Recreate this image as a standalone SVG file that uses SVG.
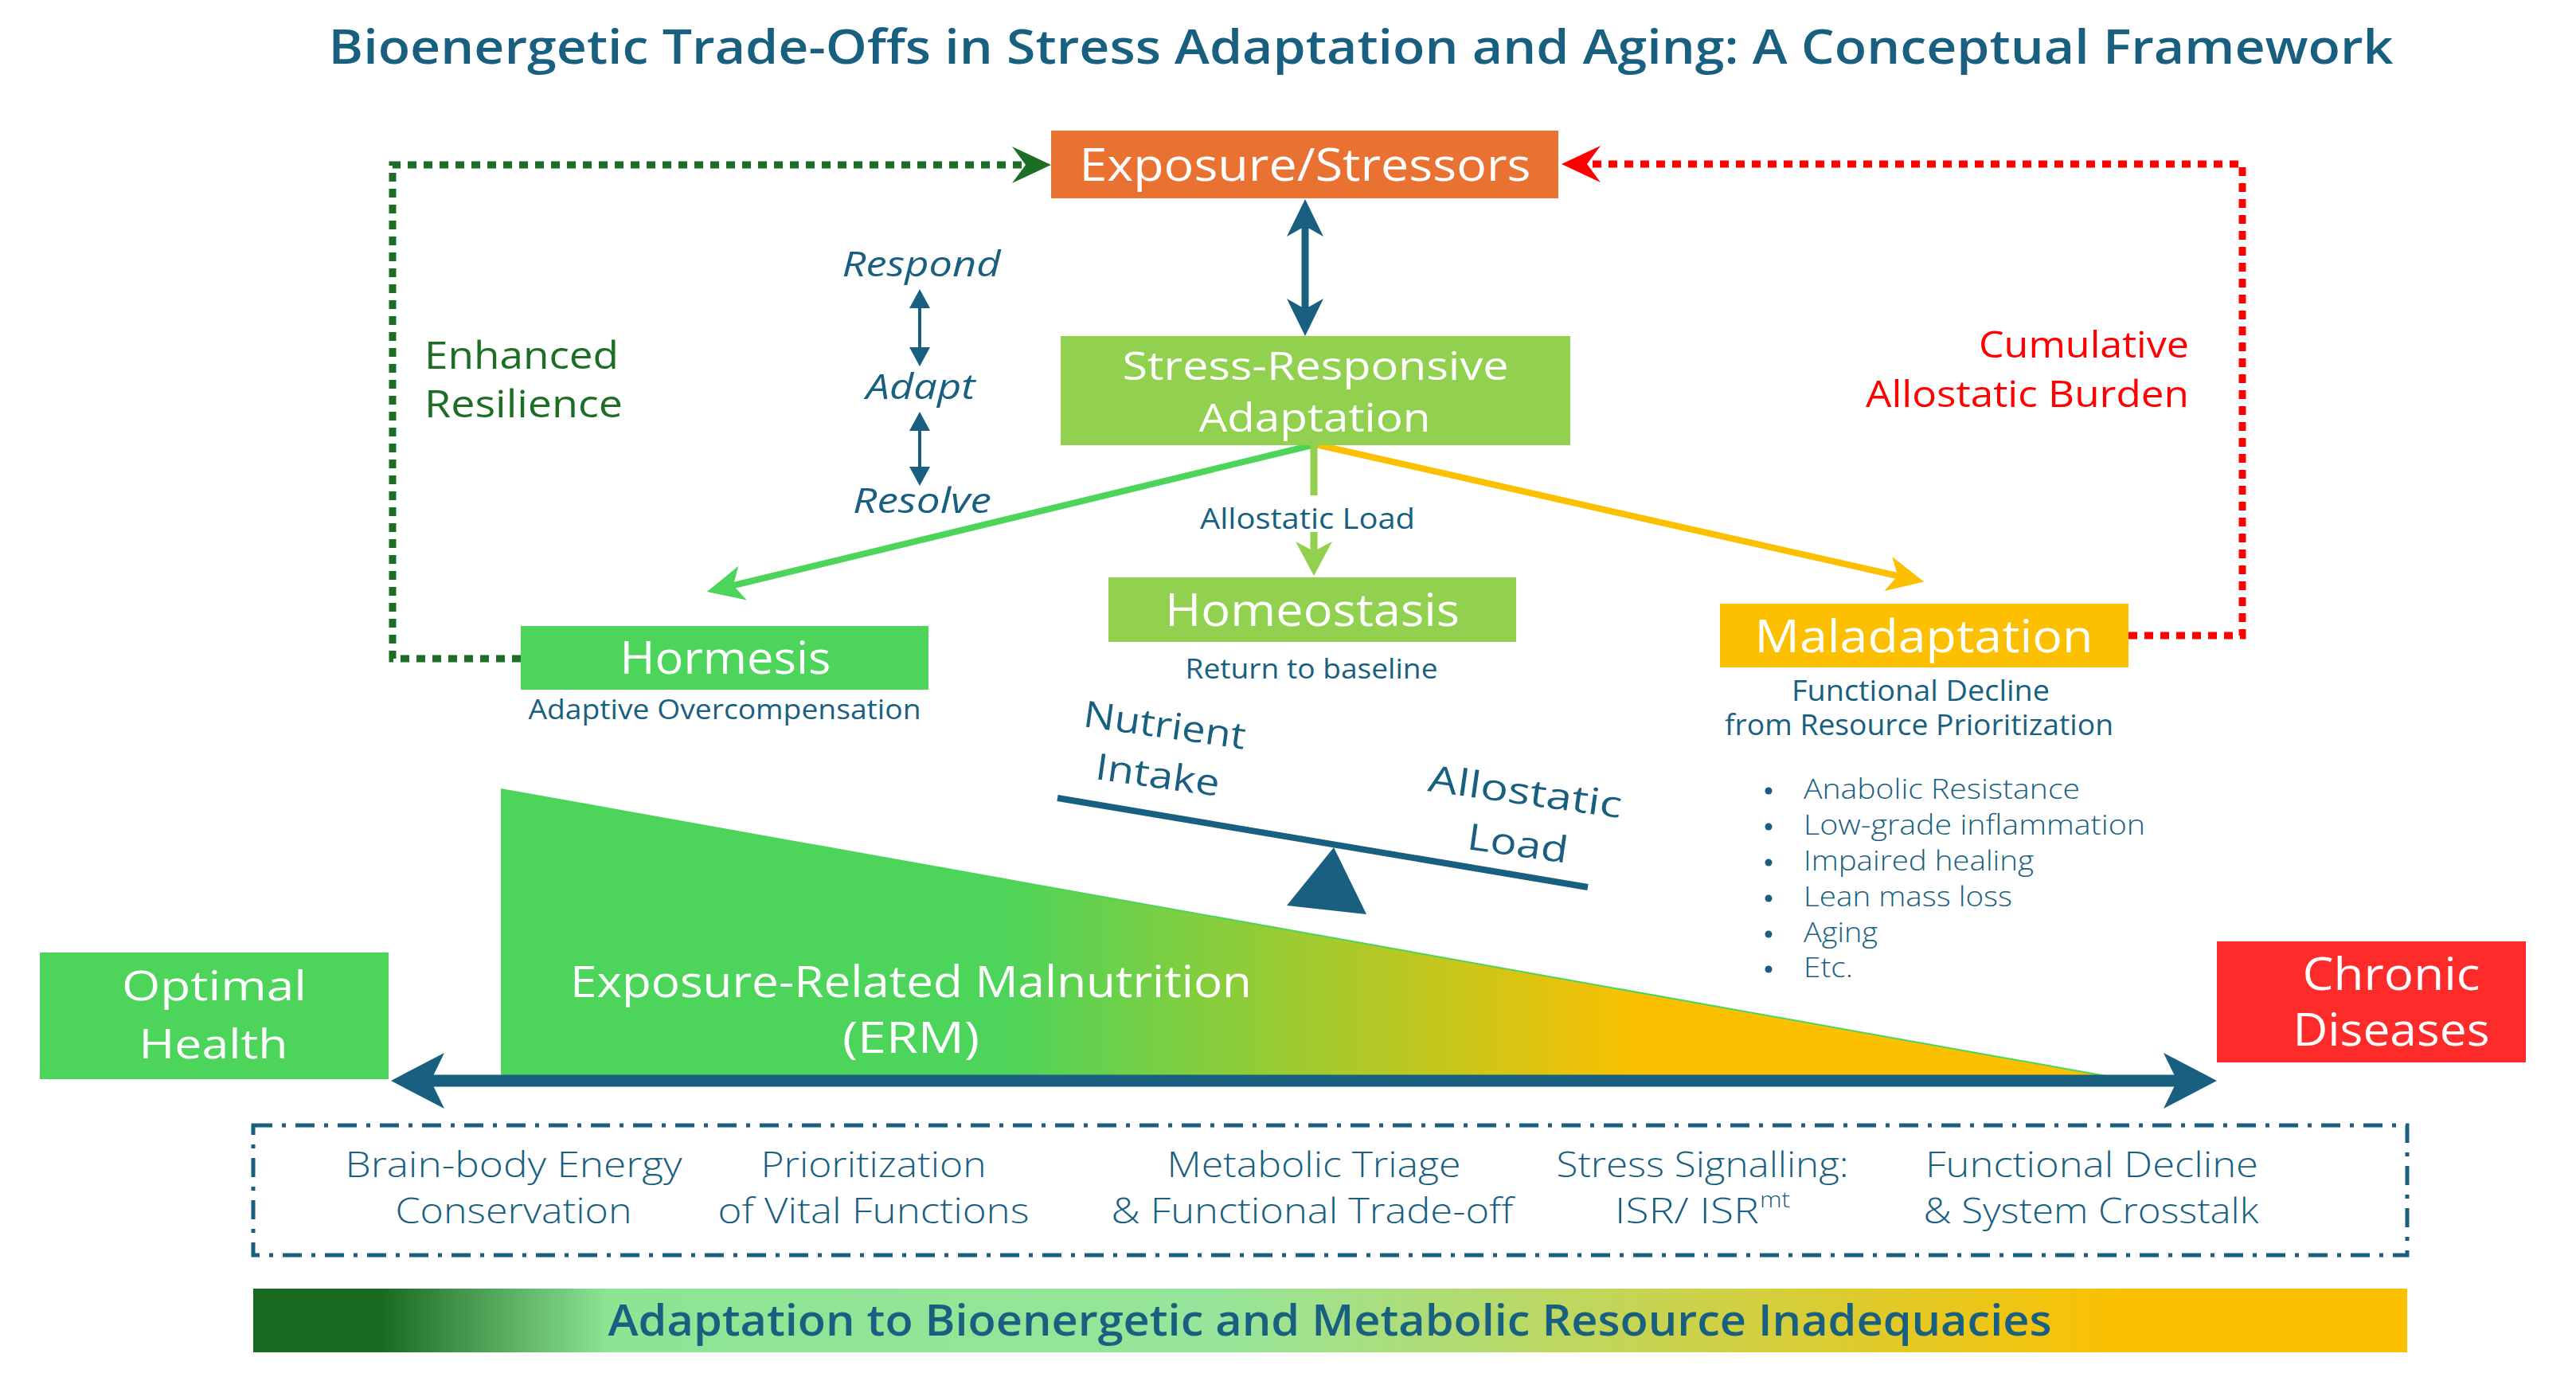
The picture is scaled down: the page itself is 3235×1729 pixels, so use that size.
<svg xmlns="http://www.w3.org/2000/svg" width="3235" height="1729" viewBox="0 0 3235 1729">
<style>
text{font-family:"Open Sans","Noto Sans",sans-serif}
.w{fill:#ffffff;font-weight:500}
.b{fill:#185f80}
.lt{font-weight:300}
.sb{font-weight:600}
.it{font-style:italic;font-weight:500}
.c{text-anchor:middle}
.dot{fill:none;stroke-width:9;stroke-dasharray:11 9}
</style>
<defs>
<linearGradient id="ermGrad" gradientUnits="userSpaceOnUse" x1="629" y1="0" x2="2650" y2="0">
<stop offset="0" stop-color="#4cd45b"/><stop offset="0.31" stop-color="#4cd45b"/><stop offset="0.71" stop-color="#fcc000"/><stop offset="1" stop-color="#fcc000"/>
</linearGradient>
<linearGradient id="barGrad" gradientUnits="userSpaceOnUse" x1="318" y1="0" x2="3023" y2="0">
<stop offset="0" stop-color="#1a6b22"/><stop offset="0.06" stop-color="#1a6b22"/><stop offset="0.165" stop-color="#8de495"/><stop offset="0.45" stop-color="#97e59a"/><stop offset="0.87" stop-color="#fcc000"/><stop offset="1" stop-color="#fcc000"/>
</linearGradient>
<marker id="ahBlue" markerUnits="userSpaceOnUse" viewBox="-50 -25 52 50" markerWidth="52" markerHeight="50" refX="-30" refY="0" orient="auto-start-reverse"><path d="M0,0 L-47,-23 L-34,0 L-47,23 Z" fill="#185f80"/></marker>
<marker id="ahGreen" markerUnits="userSpaceOnUse" viewBox="-50 -25 52 50" markerWidth="52" markerHeight="50" refX="-30" refY="0" orient="auto"><path d="M0,0 L-46,-22 L-34,0 L-46,22 Z" fill="#4cd45b"/></marker>
<marker id="ahYellow" markerUnits="userSpaceOnUse" viewBox="-50 -25 52 50" markerWidth="52" markerHeight="50" refX="-30" refY="0" orient="auto"><path d="M0,0 L-46,-22 L-34,0 L-46,22 Z" fill="#fcc000"/></marker>
<marker id="ahLG" markerUnits="userSpaceOnUse" viewBox="-50 -25 52 50" markerWidth="52" markerHeight="50" refX="-28" refY="0" orient="auto"><path d="M0,0 L-43,-23 L-31,0 L-43,23 Z" fill="#92d050"/></marker>
<marker id="ahDG" markerUnits="userSpaceOnUse" viewBox="-52 -25 54 50" markerWidth="54" markerHeight="50" refX="-29" refY="0" orient="auto"><path d="M0,0 L-49,-23 L-32,0 L-49,23 Z" fill="#1b6e24"/></marker>
<marker id="ahRed" markerUnits="userSpaceOnUse" viewBox="-52 -25 54 50" markerWidth="54" markerHeight="50" refX="-29" refY="0" orient="auto"><path d="M0,0 L-49,-23 L-32,0 L-49,23 Z" fill="#ff0000"/></marker>
<marker id="ahAxis" markerUnits="userSpaceOnUse" viewBox="-70 -37 72 74" markerWidth="72" markerHeight="74" refX="-46" refY="0" orient="auto-start-reverse"><path d="M0,0 L-67,-35 L-50,0 L-67,35 Z" fill="#185f80"/></marker>
<marker id="ahSmall" markerUnits="userSpaceOnUse" viewBox="-26 -15 28 30" markerWidth="28" markerHeight="30" refX="-20" refY="0" orient="auto-start-reverse"><path d="M0,0 L-24,-13 L-24,13 Z" fill="#185f80"/></marker>
</defs>
<rect width="3235" height="1729" fill="#ffffff"/>

<text id="title" class="b sb c" x="1709" y="80" font-size="60" textLength="2593" lengthAdjust="spacingAndGlyphs">Bioenergetic Trade-Offs in Stress Adaptation and Aging: A Conceptual Framework</text>

<g id="erm">
<polygon points="629,991 629,1352 2650,1352" fill="url(#ermGrad)"/>
<line x1="629" y1="991" x2="2650" y2="1352" stroke="#4cd45b" stroke-width="2"/>
<text class="w c" x="1144" y="1252" font-size="54" textLength="856" lengthAdjust="spacingAndGlyphs">Exposure-Related Malnutrition</text>
<text class="w c" x="1144" y="1322" font-size="54" textLength="172" lengthAdjust="spacingAndGlyphs">(ERM)</text>
</g>

<g id="connectors">
<path d="M1639,280 L1639,392" stroke="#185f80" stroke-width="9" fill="none" marker-start="url(#ahBlue)" marker-end="url(#ahBlue)"/>
<path d="M1652,558 L917,736" stroke="#4cd45b" stroke-width="8" fill="none" marker-end="url(#ahGreen)"/>
<path d="M1652,558 L2387,724" stroke="#fcc000" stroke-width="8" fill="none" marker-end="url(#ahYellow)"/>
<path d="M1650,556 L1650,622" stroke="#92d050" stroke-width="9" fill="none"/>
<path d="M1650,668 L1650,695" stroke="#92d050" stroke-width="9" fill="none" marker-end="url(#ahLG)"/>
<path class="dot" d="M654,827 L493,827 L493,207 L1291,207" stroke="#1b6e24" marker-end="url(#ahDG)"/>
<path class="dot" d="M2673,798 L2816,798 L2816,206 L1990,206" stroke="#ff0000" marker-end="url(#ahRed)"/>
<path d="M537,1357 L2738,1357" stroke="#185f80" stroke-width="15" fill="none" marker-start="url(#ahAxis)" marker-end="url(#ahAxis)"/>
<path d="M1155,383 L1155,440" stroke="#185f80" stroke-width="4" fill="none" marker-start="url(#ahSmall)" marker-end="url(#ahSmall)"/>
<path d="M1155,537 L1155,590" stroke="#185f80" stroke-width="4" fill="none" marker-start="url(#ahSmall)" marker-end="url(#ahSmall)"/>
</g>

<g id="exposure">
<rect x="1320" y="164" width="637" height="85" fill="#e97132"/>
<text class="w c" x="1639" y="227" font-size="57" textLength="567" lengthAdjust="spacingAndGlyphs">Exposure/Stressors</text>
</g>

<g id="stress-responsive">
<rect x="1332" y="422" width="640" height="137" fill="#92d050"/>
<text class="w c" x="1652" y="477" font-size="50" textLength="485" lengthAdjust="spacingAndGlyphs">Stress-Responsive</text>
<text class="w c" x="1651" y="542" font-size="50" textLength="291" lengthAdjust="spacingAndGlyphs">Adaptation</text>
</g>

<g id="cycle-labels">
<text class="b it c" x="1157" y="347" font-size="44" textLength="199" lengthAdjust="spacingAndGlyphs">Respond</text>
<text class="b it c" x="1156" y="501" font-size="44" textLength="137" lengthAdjust="spacingAndGlyphs">Adapt</text>
<text class="b it c" x="1158" y="644" font-size="44" textLength="174" lengthAdjust="spacingAndGlyphs">Resolve</text>
</g>

<g id="enhanced-resilience">
<text x="533" y="463" font-size="48" fill="#1b6e24" font-weight="500" textLength="244" lengthAdjust="spacingAndGlyphs">Enhanced</text>
<text x="533" y="524" font-size="48" fill="#1b6e24" font-weight="500" textLength="249" lengthAdjust="spacingAndGlyphs">Resilience</text>
</g>

<g id="cumulative-burden">
<text x="2749" y="449" font-size="46" fill="#ff0000" font-weight="500" text-anchor="end" textLength="264" lengthAdjust="spacingAndGlyphs">Cumulative</text>
<text x="2749" y="511" font-size="46" fill="#ff0000" font-weight="500" text-anchor="end" textLength="406" lengthAdjust="spacingAndGlyphs">Allostatic Burden</text>
</g>

<text id="allostatic-load-label" class="b c" x="1642" y="664" font-size="36" font-weight="500" textLength="270" lengthAdjust="spacingAndGlyphs">Allostatic Load</text>

<g id="hormesis">
<rect x="654" y="786" width="512" height="80" fill="#4cd45b"/>
<text class="w c" x="911" y="846" font-size="56" textLength="265" lengthAdjust="spacingAndGlyphs">Hormesis</text>
<text class="b c" x="910" y="903" font-size="34" font-weight="500" textLength="493" lengthAdjust="spacingAndGlyphs">Adaptive Overcompensation</text>
</g>

<g id="homeostasis">
<rect x="1392" y="725" width="512" height="81" fill="#92d050"/>
<text class="w c" x="1648" y="786" font-size="56" textLength="370" lengthAdjust="spacingAndGlyphs">Homeostasis</text>
<text class="b c" x="1647" y="852" font-size="34" font-weight="500" textLength="317" lengthAdjust="spacingAndGlyphs">Return to baseline</text>
</g>

<g id="maladaptation">
<rect x="2160" y="758" width="513" height="80" fill="#fcc000"/>
<text class="w c" x="2416" y="819" font-size="56" textLength="425" lengthAdjust="spacingAndGlyphs">Maladaptation</text>
<text class="b c" x="2412" y="880" font-size="36" font-weight="500" textLength="324" lengthAdjust="spacingAndGlyphs">Functional Decline</text>
<text class="b c" x="2410" y="923" font-size="36" font-weight="500" textLength="488" lengthAdjust="spacingAndGlyphs">from Resource Prioritization</text>
</g>

<g id="outcomes-list" class="b">
<circle cx="2221" cy="993" r="4.5"/><circle cx="2221" cy="1038" r="4.5"/><circle cx="2221" cy="1083" r="4.5"/><circle cx="2221" cy="1128" r="4.5"/><circle cx="2221" cy="1173" r="4.5"/><circle cx="2221" cy="1217" r="4.5"/>
<text class="lt" x="2265" y="1003" font-size="34" textLength="347" lengthAdjust="spacingAndGlyphs">Anabolic Resistance</text>
<text class="lt" x="2265" y="1048" font-size="34" textLength="429" lengthAdjust="spacingAndGlyphs">Low-grade inflammation</text>
<text class="lt" x="2265" y="1093" font-size="34" textLength="289" lengthAdjust="spacingAndGlyphs">Impaired healing</text>
<text class="lt" x="2265" y="1138" font-size="34" textLength="262" lengthAdjust="spacingAndGlyphs">Lean mass loss</text>
<text class="lt" x="2265" y="1183" font-size="34" textLength="93" lengthAdjust="spacingAndGlyphs">Aging</text>
<text class="lt" x="2265" y="1227" font-size="34" textLength="62" lengthAdjust="spacingAndGlyphs">Etc.</text>
</g>

<g id="balance">
<line x1="1328" y1="1002" x2="1994" y2="1114" stroke="#185f80" stroke-width="8"/>
<polygon points="1675,1064 1616,1137 1716,1148" fill="#185f80"/>
<text class="b" font-size="46" font-weight="500" transform="translate(1359,912) rotate(8)" textLength="205" lengthAdjust="spacingAndGlyphs">Nutrient</text>
<text class="b" font-size="46" font-weight="500" transform="translate(1374,978) rotate(8)" textLength="157" lengthAdjust="spacingAndGlyphs">Intake</text>
<text class="b" font-size="46" font-weight="500" transform="translate(1792,993) rotate(8)" textLength="245" lengthAdjust="spacingAndGlyphs">Allostatic</text>
<text class="b" font-size="46" font-weight="500" transform="translate(1841,1066) rotate(8)" textLength="127" lengthAdjust="spacingAndGlyphs">Load</text>
</g>

<g id="optimal-health">
<rect x="50" y="1196" width="438" height="159" fill="#4cd45b"/>
<text class="w c" x="269" y="1256" font-size="52" textLength="232" lengthAdjust="spacingAndGlyphs">Optimal</text>
<text class="w c" x="268" y="1329" font-size="52" textLength="187" lengthAdjust="spacingAndGlyphs">Health</text>
</g>

<g id="chronic-diseases">
<rect x="2784" y="1182" width="388" height="152" fill="#fe2b2b"/>
<text class="w c" x="3003" y="1243" font-size="56" textLength="223" lengthAdjust="spacingAndGlyphs">Chronic</text>
<text class="w c" x="3003" y="1313" font-size="56" textLength="247" lengthAdjust="spacingAndGlyphs">Diseases</text>
</g>

<g id="mechanisms">
<rect x="318" y="1413" width="2705" height="163" fill="none" stroke="#185f80" stroke-width="5" stroke-dasharray="24 12 5 12"/>
<g class="b lt" font-size="44">
<text class="c" x="645" y="1478" textLength="423" lengthAdjust="spacingAndGlyphs">Brain-body Energy</text>
<text class="c" x="645" y="1536" textLength="297" lengthAdjust="spacingAndGlyphs">Conservation</text>
<text class="c" x="1097" y="1478" textLength="283" lengthAdjust="spacingAndGlyphs">Prioritization</text>
<text class="c" x="1097" y="1536" textLength="391" lengthAdjust="spacingAndGlyphs">of Vital Functions</text>
<text class="c" x="1650" y="1478" textLength="369" lengthAdjust="spacingAndGlyphs">Metabolic Triage</text>
<text class="c" x="1648" y="1536" textLength="505" lengthAdjust="spacingAndGlyphs">&amp; Functional Trade-off</text>
<text class="c" x="2138" y="1478" textLength="367" lengthAdjust="spacingAndGlyphs">Stress Signalling:</text>
<text x="2028" y="1536" textLength="181" lengthAdjust="spacingAndGlyphs">ISR/ ISR</text>
<text x="2210" y="1516" font-size="27" textLength="38" lengthAdjust="spacingAndGlyphs">mt</text>
<text class="c" x="2627" y="1478" textLength="418" lengthAdjust="spacingAndGlyphs">Functional Decline</text>
<text class="c" x="2626" y="1536" textLength="421" lengthAdjust="spacingAndGlyphs">&amp; System Crosstalk</text>
</g>
</g>

<g id="adaptation-bar">
<rect x="318" y="1618" width="2705" height="80" fill="url(#barGrad)"/>
<text class="b sb c" x="1670" y="1677" font-size="54" textLength="1813" lengthAdjust="spacingAndGlyphs">Adaptation to Bioenergetic and Metabolic Resource Inadequacies</text>
</g>
</svg>
